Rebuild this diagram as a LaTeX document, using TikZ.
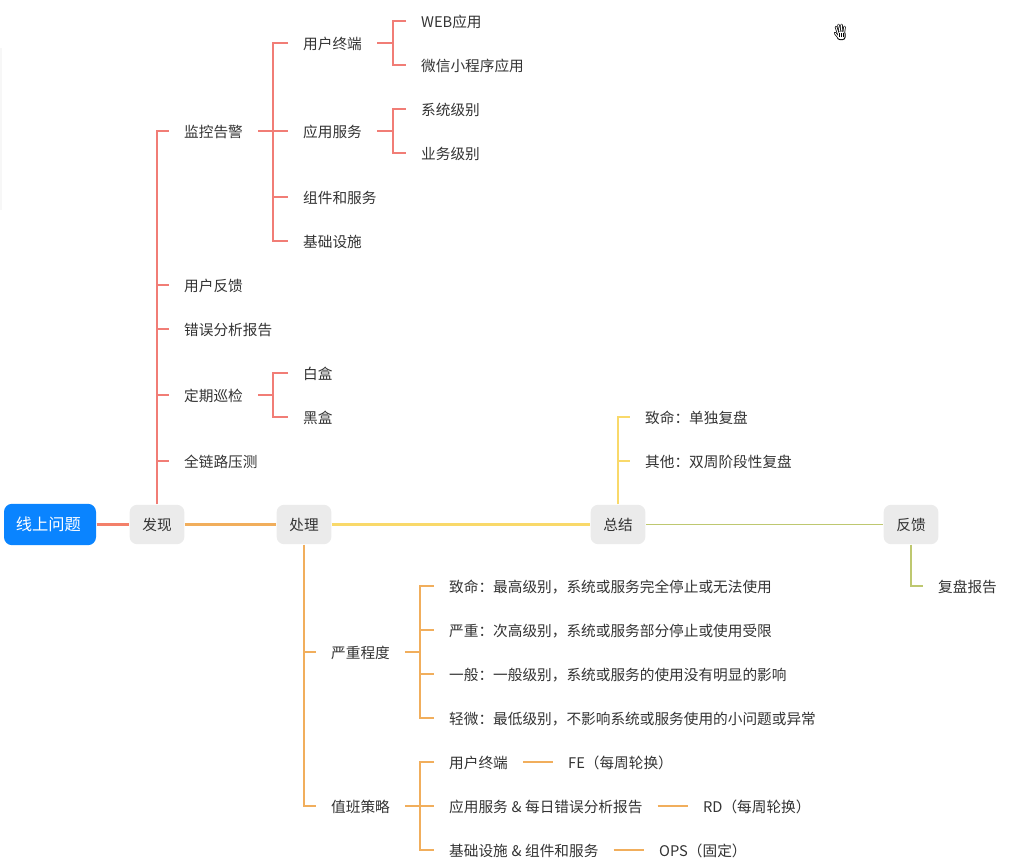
\documentclass[tikz,border=0pt]{standalone}
\usepackage{fontspec}
\setmainfont{Noto Sans CJK SC}
\definecolor{rootblue}{RGB}{10,132,255}
\definecolor{boxgray}{RGB}{235,235,235}
\definecolor{inkgray}{RGB}{51,51,51}
\definecolor{redline}{RGB}{241,125,118}
\definecolor{saltline}{RGB}{243,128,106}
\definecolor{orangeline}{RGB}{241,174,92}
\definecolor{yellowline}{RGB}{249,217,106}
\definecolor{greenline}{RGB}{190,200,112}
\tikzset{every picture/.style={line width=0.75pt}}
\tikzset{
  leaf/.style={anchor=west,inner xsep=11pt,inner ysep=0pt,text=inkgray,font=\fontsize{11pt}{13pt}\selectfont,text height=10.4pt,text depth=0.4pt},
  stepbox/.style={fill=boxgray,rounded corners=5.5pt,minimum width=41pt,minimum height=29.5pt,inner sep=0pt,text=inkgray,font=\fontsize{11pt}{13pt}\selectfont,text height=10pt,text depth=0.8pt},
  rootbox/.style={fill=rootblue,rounded corners=6pt,minimum width=69pt,minimum height=31pt,inner sep=0pt,text=white,font=\fontsize{12.2pt}{14pt}\selectfont,text height=10.8pt,text depth=1.2pt},
  redlink/.style={draw=redline,line width=1.1pt},
  orangelink/.style={draw=orangeline,line width=1.1pt},
  yellowlink/.style={draw=yellowline,line width=1.2pt},
  greenlink/.style={draw=greenline,line width=1.1pt},
  mainlink/.style={line width=1.7pt}
}
\newcommand{\andsign}{\hspace{0.25em}\&\hspace{0.25em}}

\begin{document}
\begin{tikzpicture}[x=0.75pt,y=0.75pt,yscale=-1,xscale=1]
\useasboundingbox (0,0) rectangle (1011,868);
\fill [black!3] (0,48) rectangle (2,210);

% main line
\node (wenti) at (50,524.5) [rootbox] {\hspace*{-2.4pt}线上问题};
\node (faxian) at (157,524.5) [stepbox] {发现};
\node (chuli) at (304,524.5) [stepbox] {处理};
\node (zongjie) at (618,524.5) [stepbox] {总结};
\node (fankui) at (911,524.5) [stepbox] {反馈};
\draw [mainlink,saltline] (wenti) -- (faxian);
\draw [mainlink,orangeline] (faxian) -- (chuli);
\draw [mainlink,yellowline] (chuli) -- (zongjie);
\draw [mainlink,greenline,line width=1.3pt] (zongjie) -- (fankui);

% 发现
\node (jiankong) at (169,131) [leaf] {监控告警};
\node (fankuiuser) at (169,285) [leaf] {用户反馈};
\node (cuowu) at (169,329) [leaf] {错误分析报告};
\node (xunjian) at (169,395) [leaf] {定期巡检};
\node (yace) at (169,461) [leaf] {全链路压测};
\draw [redlink,line width=1.4pt] (faxian.north) -- (faxian.north |- yace.west) -- (faxian.north |- jiankong.west) -- (jiankong.west);
\foreach \n in {fankuiuser,cuowu,xunjian,yace} \draw [redlink] (faxian.north |- \n.west) -- (\n.west);

% 监控告警
\node (zhongduan) at (288,43) [leaf] {用户终端};
\node (yingyong) at (288,131) [leaf] {应用服务};
\node (zujian) at (288,197) [leaf] {组件和服务};
\node (jichu) at (288,241) [leaf] {基础设施};
\coordinate (jiankongbus) at (273,131);
\draw [redlink] (jiankong) -- (yingyong);
\draw [redlink] (zhongduan.west) -- (jiankongbus |- zhongduan.west) -- (jiankongbus |- jichu.west) -- (jichu.west);
\draw [redlink] (jiankongbus |- zujian.west) -- (zujian.west);

\node (web) at (406,21) [leaf] {WEB应用};
\node (weixin) at (406,65) [leaf] {微信小程序应用};
\node (xitong) at (406,109) [leaf] {系统级别};
\node (yewu) at (406,153) [leaf] {业务级别};
\coordinate (zhongduanbus) at (393,43);
\coordinate (yingyongbus) at (393,131);
\draw [redlink] (zhongduan.east) -- (zhongduanbus);
\draw [redlink] (web.west) -- (zhongduanbus |- web.west) -- (zhongduanbus |- weixin.west) -- (weixin.west);
\draw [redlink] (yingyong.east) -- (yingyongbus);
\draw [redlink] (xitong.west) -- (yingyongbus |- xitong.west) -- (yingyongbus |- yewu.west) -- (yewu.west);

% 定期巡检
\node (baihe) at (288,373) [leaf] {白盒};
\node (heihe) at (288,417) [leaf] {黑盒};
\coordinate (xunjianbus) at (273,395);
\draw [redlink] (xunjian.east) -- (xunjianbus);
\draw [redlink] (baihe.west) -- (xunjianbus |- baihe.west) -- (xunjianbus |- heihe.west) -- (heihe.west);

% 总结
\node (zhiming) at (630,417) [leaf] {致命：单独复盘};
\node (qita) at (630,461) [leaf] {其他：双周阶段性复盘};
\draw [yellowlink] (zongjie.north) -- (zongjie.north |- zhiming.west) -- (zhiming.west);
\draw [yellowlink] (zongjie.north |- qita.west) -- (qita.west);

% 反馈
\node (fupan) at (923,586) [leaf] {复盘报告};
\draw [greenlink] (fankui.south) -- (fankui.south |- fupan.west) -- (fupan.west);

% 处理
\node (chengdu) at (316,652) [leaf] {严重程度};
\node (celue) at (316,806) [leaf] {值班策略};
\draw [orangelink,line width=1.4pt] (chuli.south) -- (chuli.south |- celue.west) -- (celue.west);
\draw [orangelink] (chuli.south |- chengdu.west) -- (chengdu.west);

\node (lva) at (434,586) [leaf] {致命：最高级别，系统或服务完全停止或无法使用};
\node (lvb) at (434,630) [leaf] {严重：次高级别，系统或服务部分停止或使用受限};
\node (lvc) at (434,674) [leaf] {一般：一般级别，系统或服务的使用没有明显的影响};
\node (lvd) at (434,718) [leaf] {轻微：最低级别，不影响系统或服务使用的小问题或异常};
\coordinate (chengdubus) at (420,652);
\draw [orangelink] (chengdu.east) -- (chengdubus);
\draw [orangelink] (lva.west) -- (chengdubus |- lva.west) -- (chengdubus |- lvd.west) -- (lvd.west);
\foreach \n in {lvb,lvc} \draw [orangelink] (chengdubus |- \n.west) -- (\n.west);

\node (dutya) at (434,762) [leaf] {用户终端};
\node (dutyb) at (434,806) [leaf] {应用服务\andsign 每日错误分析报告};
\node (dutyc) at (434,850) [leaf] {基础设施\andsign 组件和服务};
\coordinate (celuebus) at (420,806);
\draw [orangelink] (celue.east) -- (dutyb.west);
\draw [orangelink] (dutya.west) -- (celuebus |- dutya.west) -- (celuebus |- dutyc.west) -- (dutyc.west);

\node (fe) at (553,762) [leaf] {FE（每周轮换）};
\node (rd) at (688,806) [leaf] {RD（每周轮换）};
\node (ops) at (644,850) [leaf] {OPS（固定）};
\draw [orangelink] (dutya) -- (fe);
\draw [orangelink] (dutyb) -- (rd);
\draw [orangelink] (dutyc) -- (ops);

% hand cursor
\foreach \a/\b/\c/\d in {836/27/839/36,838.5/25/840.5/34,841.5/25/842/34,844.5/27/843.5/35,835/33/839/38}
  \draw [black,line width=1.9pt,line cap=round] (\a,\b) -- (\c,\d);
\fill [black,rounded corners=2pt] (837,31) rectangle (845.5,40);
\foreach \a/\b/\c/\d in {836/27/839/36,838.5/25/840.5/34,841.5/25/842/34,844.5/27/843.5/35,835/33/839/38}
  \draw [white,line width=0.8pt,line cap=round] (\a,\b) -- (\c,\d);
\fill [white,rounded corners=1.5pt] (838,32) rectangle (844.5,39);
\foreach \a in {839.5,841.2,843} \draw [black,line width=0.5pt] (\a,33) -- (\a,37);
\end{tikzpicture}
\end{document}
